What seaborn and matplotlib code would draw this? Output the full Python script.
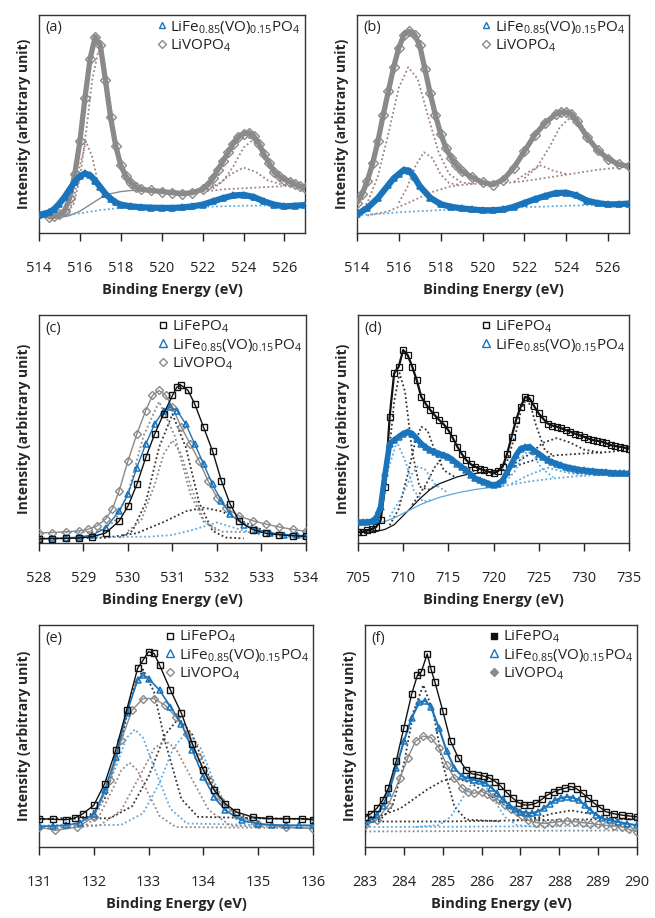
import numpy as np
import pandas as pd
import matplotlib
matplotlib.use("Agg")
import matplotlib.pyplot as plt
from matplotlib.lines import Line2D
import seaborn as sns

# ---------------- data (normalised intensity) ----------------
# panel (a)  V 2p, two samples
a_gray_x = [514.5,514.75,515.0,515.25,515.5,515.75,516.0,516.25,516.5,516.75,517.0,517.25,517.5,517.75,518.0,518.25,518.5,518.75,519.0,519.5,520.0,520.5,521.0,521.5,522.0,522.25,522.5,522.75,523.0,523.25,523.5,523.75,524.0,524.25,524.5,524.75,525.0,525.25,525.5,525.75,526.0,526.25,526.5,526.75,527.0]
a_gray_y = [0.075,0.078,0.085,0.10,0.16,0.27,0.42,0.62,0.80,0.90,0.86,0.70,0.53,0.40,0.31,0.26,0.23,0.21,0.20,0.195,0.19,0.185,0.18,0.185,0.20,0.22,0.25,0.29,0.33,0.37,0.41,0.44,0.455,0.46,0.445,0.41,0.36,0.32,0.28,0.26,0.245,0.235,0.225,0.215,0.205]
a_blue_x = [514.0,514.25,514.5,514.75,515.0,515.25,515.5,515.75,516.0,516.25,516.5,516.75,517.0,517.25,517.5,517.75,518.0,518.5,519.0,519.5,520.0,520.5,521.0,521.5,522.0,522.5,523.0,523.5,524.0,524.5,525.0,525.5,526.0,526.5,527.0]
a_blue_y = [0.083,0.088,0.095,0.11,0.135,0.165,0.20,0.235,0.26,0.273,0.265,0.24,0.21,0.18,0.158,0.14,0.13,0.122,0.118,0.116,0.115,0.115,0.117,0.122,0.13,0.145,0.16,0.172,0.175,0.165,0.145,0.13,0.122,0.125,0.128]
a_bg_x = [514.5,515.0,515.5,516.0,516.5,517.0,517.5,518.0,518.5,519.5,521.0,522.0]
a_bg_y = [0.065,0.07,0.08,0.10,0.13,0.16,0.18,0.19,0.195,0.195,0.19,0.19]
a_bg2_x = [522.0,523.0,524.0,525.0,526.0,527.0]
a_bg2_y = [0.19,0.20,0.205,0.21,0.215,0.22]
a_c1_x = [515.3,515.7,516.0,516.3,516.6,516.9,517.2,517.5,517.8,518.2,518.6]
a_c1_y = [0.082,0.135,0.25,0.46,0.70,0.835,0.78,0.59,0.395,0.24,0.20]
a_c2_x = [515.4,515.7,516.0,516.3,516.6,516.9,517.2]
a_c2_y = [0.086,0.154,0.31,0.42,0.35,0.224,0.18]
a_c3_x = [522.5,523.0,523.5,524.0,524.4,524.8,525.3,525.8,526.3,527.0]
a_c3_y = [0.204,0.238,0.305,0.392,0.422,0.397,0.317,0.253,0.226,0.22]
a_c4_x = [522.0,522.8,523.4,524.0,524.6,525.2,526.0]
a_c4_y = [0.194,0.227,0.271,0.30,0.28,0.241,0.219]
a_bbg_x = [514.0,515.0,516.0,517.0,518.0,520.0,522.0,524.0,526.0,527.0]
a_bbg_y = [0.075,0.08,0.09,0.105,0.115,0.118,0.12,0.125,0.127,0.128]

# panel (b)
b_gray_x = [514.0,514.25,514.5,514.75,515.0,515.25,515.5,515.75,516.0,516.25,516.5,516.75,517.0,517.25,517.5,517.75,518.0,518.25,518.5,518.75,519.0,519.5,520.0,520.5,521.0,521.5,522.0,522.5,523.0,523.5,523.75,524.0,524.25,524.5,525.0,525.5,526.0,526.5,527.0]
b_gray_y = [0.138,0.18,0.24,0.32,0.42,0.54,0.65,0.76,0.85,0.91,0.925,0.91,0.86,0.75,0.64,0.54,0.455,0.39,0.345,0.31,0.285,0.255,0.232,0.222,0.245,0.30,0.375,0.45,0.505,0.545,0.555,0.555,0.545,0.515,0.44,0.38,0.34,0.315,0.305]
b_blue_x = [514.0,514.5,515.0,515.5,515.75,516.0,516.25,516.5,516.75,517.0,517.5,518.0,518.5,519.0,519.5,520.0,520.5,521.0,521.5,522.0,522.5,523.0,523.5,524.0,524.5,525.0,525.5,526.0,526.5,527.0]
b_blue_y = [0.085,0.115,0.16,0.22,0.25,0.27,0.29,0.285,0.255,0.215,0.162,0.132,0.12,0.113,0.108,0.104,0.104,0.108,0.12,0.138,0.155,0.17,0.183,0.185,0.172,0.148,0.137,0.131,0.132,0.135]
b_bg_x = [514.5,515.5,516.5,517.5,518.5,519.5,520.5,521.5,522.5,523.5,524.5,525.5,527.0]
b_bg_y = [0.08,0.10,0.14,0.185,0.215,0.225,0.228,0.232,0.245,0.26,0.275,0.29,0.305]
b_c1_x = [514.0,514.5,515.0,515.5,516.0,516.45,516.9,517.4,517.9,518.4,519.0,519.6]
b_c1_y = [0.086,0.139,0.26,0.455,0.667,0.76,0.707,0.535,0.37,0.271,0.231,0.226]
b_c2_x = [516.0,516.4,516.8,517.2,517.6,518.0,518.4,518.9]
b_c2_y = [0.139,0.209,0.309,0.37,0.344,0.269,0.229,0.22]
b_c3_x = [522.0,522.6,523.2,523.7,524.2,524.7,525.2,525.8,526.5]
b_c3_y = [0.251,0.301,0.395,0.486,0.53,0.501,0.425,0.346,0.31]
b_c4_x = [521.5,522.2,522.8,523.4,524.1]
b_c4_y = [0.235,0.28,0.31,0.285,0.268]
b_bbg_x = [514.0,516.0,518.0,520.0,522.0,524.0,526.0,527.0]
b_bbg_y = [0.08,0.095,0.105,0.112,0.118,0.125,0.13,0.132]

# panel (c)  O 1s
c_black_x = [528.0,528.3,528.6,528.9,529.2,529.5,529.8,530.0,530.2,530.4,530.6,530.8,531.0,531.1,531.2,531.35,531.5,531.7,531.9,532.1,532.3,532.5,532.8,533.1,533.4,533.7,534.0]
c_black_y = [0.019,0.019,0.02,0.022,0.028,0.044,0.096,0.162,0.257,0.375,0.478,0.566,0.647,0.684,0.691,0.669,0.610,0.507,0.404,0.272,0.169,0.096,0.059,0.042,0.036,0.032,0.029]
c_blue_x = [528.0,528.3,528.6,528.9,529.2,529.5,529.8,530.0,530.2,530.4,530.6,530.8,530.95,531.1,531.3,531.5,531.7,531.9,532.1,532.3,532.6,532.9,533.2,533.5,533.8,534.0]
c_blue_y = [0.019,0.02,0.022,0.026,0.035,0.066,0.14,0.213,0.331,0.434,0.522,0.581,0.596,0.581,0.522,0.434,0.346,0.257,0.184,0.125,0.081,0.058,0.045,0.037,0.034,0.032]
c_gray_x = [528.0,528.3,528.6,528.9,529.1,529.3,529.5,529.65,529.8,530.0,530.2,530.4,530.55,530.7,530.85,531.0,531.2,531.4,531.6,531.8,532.0,532.2,532.5,532.8,533.1,533.4,533.7,534.0]
c_gray_y = [0.044,0.046,0.049,0.053,0.06,0.074,0.105,0.15,0.228,0.36,0.478,0.581,0.647,0.669,0.647,0.596,0.507,0.434,0.36,0.272,0.199,0.154,0.118,0.098,0.083,0.07,0.06,0.051]
c_k1_x = [529.8,530.1,530.4,530.7,531.0,531.3,531.6,531.9,532.2,532.6]
c_k1_y = [0.024,0.053,0.177,0.42,0.565,0.42,0.177,0.053,0.024,0.02]
c_k2_x = [528.0,529.5,530.2,530.8,531.3,531.7,532.1,532.6,533.2,533.9]
c_k2_y = [0.02,0.023,0.043,0.092,0.139,0.155,0.139,0.092,0.043,0.023]
c_g1_x = [528.5,529.3,529.7,530.0,530.35,530.7,531.05,531.4,531.7,532.1,533.0]
c_g1_y = [0.046,0.05,0.094,0.217,0.47,0.62,0.47,0.217,0.094,0.05,0.046]
c_g2_x = [530.0,530.3,530.6,530.8,531.0,531.2,531.4,531.7,532.0]
c_g2_y = [0.052,0.10,0.256,0.389,0.45,0.389,0.256,0.10,0.052]
c_b1_x = [529.0,530.5,531.0,531.5,532.0,532.5,533.0,533.5,534.0]
c_b1_y = [0.025,0.028,0.035,0.06,0.09,0.06,0.035,0.028,0.027]

# panel (d)  Fe 2p
d_x = [705+0.5*i for i in range(61)]
d_black_y = [0.048,0.05,0.056,0.062,0.07,0.10,0.246,0.553,0.744,0.773,0.846,0.824,0.773,0.714,0.641,0.61,0.583,0.56,0.539,0.52,0.495,0.46,0.422,0.39,0.363,0.345,0.334,0.325,0.319,0.312,0.305,0.315,0.334,0.39,0.466,0.54,0.597,0.641,0.634,0.60,0.568,0.545,0.524,0.515,0.51,0.503,0.495,0.488,0.48,0.473,0.466,0.458,0.451,0.448,0.444,0.437,0.429,0.425,0.422,0.418,0.414]
d_blue_y = [0.092,0.092,0.092,0.095,0.107,0.158,0.305,0.436,0.451,0.466,0.48,0.488,0.48,0.458,0.436,0.42,0.407,0.40,0.392,0.385,0.378,0.363,0.348,0.333,0.319,0.30,0.283,0.275,0.268,0.26,0.253,0.26,0.275,0.31,0.348,0.385,0.414,0.42,0.422,0.405,0.392,0.377,0.363,0.355,0.348,0.34,0.334,0.33,0.326,0.322,0.319,0.317,0.315,0.313,0.312,0.31,0.308,0.307,0.306,0.305,0.305]
d_kbg_x = [705,707,708,709,710,711,712,713,714,715,716,717,718,719,720,721]
d_kbg_y = [0.045,0.05,0.06,0.08,0.12,0.16,0.20,0.235,0.26,0.275,0.29,0.30,0.305,0.31,0.315,0.32]
d_kbg2_x = [721,723,725,727,729,731,733,735]
d_kbg2_y = [0.32,0.345,0.37,0.385,0.39,0.395,0.40,0.41]
d_k1_x = [706.5,707.5,708.3,709.0,709.6,710.2,711.0,711.8,712.8,714.0]
d_k1_y = [0.053,0.125,0.34,0.62,0.745,0.664,0.40,0.247,0.234,0.26]
d_k2_x = [708.5,709.5,710.5,711.3,712.0,712.7,713.5,714.5,715.7]
d_k2_y = [0.078,0.149,0.30,0.438,0.51,0.493,0.405,0.319,0.29]
d_k3_x = [711.0,712.5,713.5,714.5,715.5,716.5,718.0]
d_k3_y = [0.167,0.255,0.333,0.38,0.373,0.34,0.312]
d_k4_x = [720.5,721.5,722.5,723.1,723.6,724.1,724.7,725.7,726.7]
d_k4_y = [0.32,0.357,0.488,0.589,0.63,0.603,0.517,0.406,0.382]
d_k5_x = [722.0,724.0,725.5,727.0,728.5,730.0,732.0]
d_k5_y = [0.34,0.39,0.44,0.46,0.44,0.41,0.395]
d_bbg_x = [705,707,708,709,710,711,712,713,714,716,718,720,721]
d_bbg_y = [0.08,0.085,0.095,0.11,0.13,0.15,0.17,0.185,0.20,0.22,0.235,0.245,0.25]
d_bbg2_x = [721,724,727,730,733,735]
d_bbg2_y = [0.25,0.27,0.285,0.295,0.30,0.305]
d_b1_x = [706.5,707.5,708.3,709.3,710.3,711.2,712.2,713.3]
d_b1_y = [0.096,0.176,0.316,0.445,0.353,0.229,0.182,0.19]
d_b2_x = [708.5,709.8,711.0,711.6,712.4,713.5,715.0]
d_b2_y = [0.115,0.20,0.305,0.335,0.324,0.258,0.219]
d_b3_x = [721.0,722.3,723.2,723.8,724.4,725.3,726.6]
d_b3_y = [0.255,0.311,0.379,0.402,0.386,0.329,0.288]
d_b4_x = [722.0,724.0,726.0,728.0,730.0]
d_b4_y = [0.26,0.30,0.33,0.31,0.295]

# panel (e)  P 2p
e_black_x = [131.0,131.25,131.5,131.65,131.8,132.0,132.2,132.4,132.6,132.8,132.9,133.0,133.1,133.2,133.4,133.6,133.8,134.0,134.2,134.4,134.6,134.9,135.2,135.5,135.8,136.0]
e_black_y = [0.128,0.125,0.123,0.13,0.15,0.188,0.286,0.436,0.617,0.805,0.842,0.88,0.872,0.82,0.707,0.602,0.466,0.346,0.256,0.195,0.158,0.135,0.128,0.128,0.128,0.123]
e_blue_x = [131.0,131.25,131.5,131.75,132.0,132.2,132.4,132.6,132.8,132.9,133.0,133.2,133.4,133.6,133.8,134.0,134.2,134.4,134.7,135.0,135.25,135.5,135.75,136.0]
e_blue_y = [0.093,0.095,0.098,0.11,0.15,0.256,0.406,0.602,0.752,0.774,0.759,0.707,0.632,0.556,0.436,0.316,0.226,0.165,0.12,0.105,0.1,0.098,0.098,0.098]
e_gray_x = [131.0,131.3,131.7,132.0,132.3,132.5,132.7,132.9,133.1,133.3,133.5,133.7,133.9,134.1,134.3,134.6,135.0,135.5,136.0]
e_gray_y = [0.09,0.075,0.09,0.135,0.301,0.481,0.617,0.669,0.669,0.639,0.586,0.511,0.406,0.301,0.211,0.143,0.105,0.09,0.083]
e_k1_x = [131.0,131.9,132.2,132.5,132.7,132.9,133.1,133.3,133.6,133.9,136.0]
e_k1_y = [0.125,0.136,0.216,0.476,0.699,0.80,0.699,0.476,0.216,0.136,0.125]
e_k2_x = [131.0,132.3,132.7,133.0,133.3,133.55,133.8,134.1,134.4,134.8,136.0]
e_k2_y = [0.125,0.13,0.184,0.318,0.506,0.58,0.506,0.318,0.184,0.13,0.125]
e_b1_x = [131.0,131.8,132.1,132.4,132.6,132.75,132.9,133.1,133.4,133.7,136.0]
e_b1_y = [0.095,0.106,0.172,0.359,0.492,0.53,0.492,0.359,0.172,0.106,0.095]
e_b2_x = [131.0,132.5,132.9,133.2,133.45,133.7,133.95,134.2,134.5,134.9,136.0]
e_b2_y = [0.095,0.10,0.152,0.29,0.445,0.52,0.445,0.29,0.152,0.10,0.095]
e_g1_x = [131.0,131.8,132.1,132.35,132.5,132.65,132.8,132.95,133.2,133.5,136.0]
e_g1_y = [0.085,0.09,0.14,0.264,0.345,0.38,0.345,0.264,0.14,0.09,0.085]
e_g2_x = [131.0,132.1,132.5,132.85,133.1,133.3,133.5,133.75,134.1,134.5,136.0]
e_g2_y = [0.085,0.096,0.166,0.325,0.443,0.48,0.443,0.325,0.166,0.096,0.085]

# panel (f)  C 1s
f_black_x = [283.0,283.15,283.3,283.45,283.6,283.8,284.0,284.2,284.35,284.45,284.6,284.7,284.8,285.0,285.2,285.4,285.6,285.75,285.9,286.05,286.2,286.35,286.5,286.65,286.8,286.95,287.1,287.25,287.4,287.55,287.7,287.85,288.0,288.15,288.3,288.45,288.6,288.75,288.9,289.05,289.2,289.4,289.6,289.8,290.0]
f_black_y = [0.136,0.15,0.174,0.21,0.265,0.386,0.538,0.689,0.775,0.79,0.87,0.80,0.742,0.614,0.477,0.402,0.348,0.33,0.326,0.32,0.311,0.295,0.273,0.245,0.22,0.2,0.189,0.19,0.197,0.215,0.235,0.248,0.258,0.265,0.273,0.262,0.242,0.22,0.197,0.178,0.159,0.15,0.144,0.14,0.136]
f_blue_x = [283.0,283.15,283.3,283.45,283.6,283.8,284.0,284.2,284.4,284.55,284.7,284.9,285.1,285.3,285.5,285.65,285.8,285.95,286.1,286.25,286.4,286.55,286.7,286.85,287.0,287.15,287.3,287.45,287.6,287.75,287.9,288.05,288.2,288.35,288.5,288.65,288.8,288.95,289.1,289.3,289.5,289.75,290.0]
f_blue_y = [0.114,0.125,0.144,0.185,0.242,0.356,0.477,0.583,0.652,0.659,0.629,0.538,0.432,0.356,0.318,0.31,0.303,0.296,0.288,0.268,0.242,0.215,0.189,0.172,0.159,0.155,0.152,0.16,0.174,0.195,0.212,0.22,0.227,0.222,0.212,0.19,0.167,0.145,0.129,0.12,0.114,0.105,0.098]
f_gray_x = [283.0,283.3,283.6,283.9,284.1,284.3,284.5,284.7,284.9,285.1,285.3,285.5,285.65,285.8,286.0,286.15,286.3,286.45,286.6,286.75,286.9,287.05,287.2,287.4,287.6,287.8,288.0,288.2,288.4,288.6,288.8,289.0,289.2,289.4,289.6,289.8,290.0]
f_gray_y = [0.098,0.121,0.189,0.311,0.402,0.477,0.50,0.492,0.447,0.371,0.311,0.265,0.25,0.242,0.25,0.24,0.227,0.21,0.189,0.172,0.159,0.14,0.121,0.11,0.106,0.11,0.114,0.118,0.114,0.11,0.106,0.102,0.098,0.095,0.091,0.08,0.068]
f_kbg_x = [283.0,285.0,287.0,289.0,290.0]
f_kbg_y = [0.115,0.115,0.12,0.125,0.125]
f_k1_x = [283.0,283.4,283.7,284.0,284.25,284.5,284.75,285.0,285.3,285.6,286.5]
f_k1_y = [0.115,0.124,0.182,0.374,0.611,0.73,0.611,0.374,0.182,0.124,0.115]
f_k2_x = [283.2,283.9,284.6,285.0,285.3,285.7,286.2,286.9,287.6]
f_k2_y = [0.128,0.173,0.259,0.299,0.31,0.292,0.233,0.155,0.122]
f_k3_x = [286.8,287.3,287.8,288.3,288.8,289.3,290.0]
f_k3_y = [0.12,0.125,0.15,0.165,0.15,0.13,0.125]
f_b1_x = [284.3,284.9,285.2,285.5,285.7,285.9,286.1,286.3,286.6,286.9,287.5]
f_b1_y = [0.09,0.099,0.135,0.217,0.275,0.30,0.275,0.217,0.135,0.099,0.09]
f_bbg_x = [283.0,290.0]
f_bbg_y = [0.09,0.095]
f_gbg_x = [283.0,290.0]
f_gbg_y = [0.07,0.075]

# legend labels / ticks
lab_lfp = r"LiFePO$_4$"
lab_mix = r"LiFe$_{0.85}$(VO)$_{0.15}$PO$_4$"
lab_lvp = r"LiVOPO$_4$"
ticks_ab = [514, 516, 518, 520, 522, 524, 526]
ticks_c = [528, 529, 530, 531, 532, 533, 534]
ticks_d = [705, 710, 715, 720, 725, 730, 735]
ticks_e = [131, 132, 133, 134, 135, 136]
ticks_f = [283, 284, 285, 286, 287, 288, 289, 290]

# ---------------- style ----------------
sns.set_theme(style="white")
plt.rcParams["font.family"] = ["Open Sans", "DejaVu Sans"]
plt.rcParams["mathtext.fontset"] = "custom"
plt.rcParams["mathtext.rm"] = "Open Sans"
plt.rcParams["mathtext.it"] = "Open Sans:italic"
plt.rcParams["mathtext.bf"] = "Open Sans:bold"

BLUE = "#1a74bb"
LBLUE = "#5da8de"
GRAY = "#8a8a8a"
BROWN = "#a08282"
BLACK = "#111111"
DOT = (0, (1, 1.4))


def curve(ax, x, y, color, lw=1.0, ls="-", marker=None, ms=4, mfc="none", mew=0.8, z=2):
    kw = dict(color=color, linewidth=lw, linestyle=ls, zorder=z)
    if marker:
        kw.update(marker=marker, markersize=ms, markerfacecolor=mfc,
                  markeredgecolor=color, markeredgewidth=mew)
    sns.lineplot(x=np.asarray(x), y=np.asarray(y), ax=ax, estimator=None,
                 sort=False, errorbar=None, legend=False, **kw)


def dots(ax, x, y, color, lw=1.3):
    curve(ax, x, y, color, lw=lw, ls=DOT, z=2)


def setup(ax, letter, xlim, ticks):
    ax.set_xlim(*xlim)
    ax.set_ylim(0, 1)
    ax.set_xticks(ticks)
    ax.set_xticklabels([str(t) for t in ticks])
    ax.set_yticks([])
    ax.tick_params(axis="x", bottom=True, direction="out", length=6, width=1,
                   pad=14, labelsize=10.5, colors="#222222")
    for s in ax.spines.values():
        s.set_color("#333333")
        s.set_linewidth(1.0)
        s.set_visible(True)
    ax.set_xlabel("Binding Energy (eV)", fontsize=10.5, fontweight="bold", labelpad=5)
    ax.set_ylabel("Intensity (arbitrary unit)", fontsize=10, fontweight="bold", labelpad=6)
    ax.text(0.025, 0.975, letter, transform=ax.transAxes, ha="left", va="top", fontsize=10.5)


def legend(ax, entries, fs=11):
    handles, labels = [], []
    for marker, ec, fc, ms, lab in entries:
        handles.append(Line2D([], [], linestyle="none", marker=marker, markersize=ms,
                              markerfacecolor=fc, markeredgecolor=ec, markeredgewidth=1.0))
        labels.append(lab)
    ax.legend(handles, labels, loc="upper right", frameon=False, fontsize=fs,
              handlelength=0.6, handletextpad=0.25, labelspacing=0.1,
              borderaxespad=0.1, borderpad=0.15, labelcolor="#222222")


fig = plt.figure(figsize=(6.55, 9.18), dpi=100)
ax_a = fig.add_axes([0.0595, 0.7462, 0.406, 0.2375])
ax_b = fig.add_axes([0.545, 0.7462, 0.4153, 0.2375])
ax_c = fig.add_axes([0.0595, 0.4085, 0.4076, 0.2484])
ax_d = fig.add_axes([0.5466, 0.4085, 0.4137, 0.2484])
ax_e = fig.add_axes([0.0595, 0.0773, 0.4183, 0.2418])
ax_f = fig.add_axes([0.5573, 0.0773, 0.4153, 0.2418])

# (a)
ax = ax_a
curve(ax, a_bg_x, a_bg_y, GRAY, lw=1.0)
dots(ax, a_bg2_x, a_bg2_y, BROWN)
for xx, yy in [(a_c1_x, a_c1_y), (a_c2_x, a_c2_y), (a_c3_x, a_c3_y), (a_c4_x, a_c4_y)]:
    dots(ax, xx, yy, BROWN)
dots(ax, a_bbg_x, a_bbg_y, LBLUE)
curve(ax, a_gray_x, a_gray_y, GRAY, lw=3.8, marker="D", ms=5, mew=1.0, z=3)
curve(ax, a_blue_x, a_blue_y, BLUE, lw=4.5, marker="^", ms=5, mew=1.2, z=4)
setup(ax, "(a)", (514, 527), ticks_ab)
legend(ax, [("^", BLUE, "none", 5, lab_mix), ("D", GRAY, "none", 4.5, lab_lvp)])

# (b)
ax = ax_b
dots(ax, b_bg_x, b_bg_y, BROWN)
for xx, yy in [(b_c1_x, b_c1_y), (b_c2_x, b_c2_y), (b_c3_x, b_c3_y), (b_c4_x, b_c4_y)]:
    dots(ax, xx, yy, BROWN)
dots(ax, b_bbg_x, b_bbg_y, LBLUE)
curve(ax, b_gray_x, b_gray_y, GRAY, lw=3.8, marker="D", ms=5, mew=1.0, z=3)
curve(ax, b_blue_x, b_blue_y, BLUE, lw=4.5, marker="^", ms=5, mew=1.2, z=4)
setup(ax, "(b)", (514, 527), ticks_ab)
legend(ax, [("^", BLUE, "none", 5, lab_mix), ("D", GRAY, "none", 4.5, lab_lvp)])

# (c)
ax = ax_c
dots(ax, c_k1_x, c_k1_y, "#333333")
dots(ax, c_k2_x, c_k2_y, "#333333")
dots(ax, c_g1_x, c_g1_y, GRAY)
dots(ax, c_g2_x, c_g2_y, GRAY)
dots(ax, c_b1_x, c_b1_y, LBLUE)
curve(ax, c_gray_x, c_gray_y, GRAY, lw=1.0, marker="D", ms=4.5, mew=1.0, z=3)
curve(ax, c_blue_x, c_blue_y, BLUE, lw=1.0, marker="^", ms=5, mew=1.1, z=4)
curve(ax, c_black_x, c_black_y, BLACK, lw=1.0, marker="s", ms=4.5, mew=1.0, z=5)
setup(ax, "(c)", (528, 534), ticks_c)
legend(ax, [("s", BLACK, "none", 5, lab_lfp), ("^", BLUE, "none", 5.5, lab_mix),
            ("D", GRAY, "none", 4.5, lab_lvp)])

# (d)
ax = ax_d
curve(ax, d_kbg_x, d_kbg_y, BLACK, lw=0.9)
dots(ax, d_kbg2_x, d_kbg2_y, "#333333")
for xx, yy in [(d_k1_x, d_k1_y), (d_k2_x, d_k2_y), (d_k3_x, d_k3_y), (d_k4_x, d_k4_y), (d_k5_x, d_k5_y)]:
    dots(ax, xx, yy, "#333333")
curve(ax, d_bbg_x, d_bbg_y, LBLUE, lw=0.9)
dots(ax, d_bbg2_x, d_bbg2_y, LBLUE)
for xx, yy in [(d_b1_x, d_b1_y), (d_b2_x, d_b2_y), (d_b3_x, d_b3_y), (d_b4_x, d_b4_y)]:
    dots(ax, xx, yy, LBLUE)
curve(ax, d_x, d_black_y, BLACK, lw=1.6, marker="s", ms=4, mew=0.9, z=4)
curve(ax, d_x, d_blue_y, BLUE, lw=4.0, marker="^", ms=4.5, mew=1.1, z=5)
setup(ax, "(d)", (705, 735), ticks_d)
legend(ax, [("s", BLACK, "none", 5, lab_lfp), ("^", BLUE, "none", 5.5, lab_mix)])

# (e)
ax = ax_e
for xx, yy in [(e_k1_x, e_k1_y), (e_k2_x, e_k2_y)]:
    dots(ax, xx, yy, "#333333")
for xx, yy in [(e_b1_x, e_b1_y), (e_b2_x, e_b2_y)]:
    dots(ax, xx, yy, LBLUE)
for xx, yy in [(e_g1_x, e_g1_y), (e_g2_x, e_g2_y)]:
    dots(ax, xx, yy, BROWN)
curve(ax, e_gray_x, e_gray_y, GRAY, lw=1.0, marker="D", ms=4.5, mew=1.0, z=3)
curve(ax, e_blue_x, e_blue_y, BLUE, lw=1.2, marker="^", ms=5, mew=1.1, z=4)
curve(ax, e_black_x, e_black_y, BLACK, lw=1.0, marker="s", ms=5, mew=1.0, z=5)
setup(ax, "(e)", (131, 136), ticks_e)
legend(ax, [("s", BLACK, "none", 5, lab_lfp), ("^", BLUE, "none", 5.5, lab_mix),
            ("D", GRAY, "none", 4.5, lab_lvp)])

# (f)
ax = ax_f
dots(ax, f_kbg_x, f_kbg_y, "#333333")
for xx, yy in [(f_k1_x, f_k1_y), (f_k2_x, f_k2_y), (f_k3_x, f_k3_y)]:
    dots(ax, xx, yy, "#333333")
dots(ax, f_b1_x, f_b1_y, LBLUE)
dots(ax, f_bbg_x, f_bbg_y, LBLUE)
dots(ax, f_gbg_x, f_gbg_y, GRAY)
curve(ax, f_gray_x, f_gray_y, GRAY, lw=1.0, marker="D", ms=4.5, mew=1.0, z=3)
curve(ax, f_blue_x, f_blue_y, BLUE, lw=1.5, marker="^", ms=5, mew=1.1, z=4)
curve(ax, f_black_x, f_black_y, BLACK, lw=1.0, marker="s", ms=5, mew=1.0, z=5)
setup(ax, "(f)", (283, 290), ticks_f)
legend(ax, [("s", BLACK, BLACK, 5, lab_lfp), ("^", BLUE, "none", 5.5, lab_mix),
            ("D", GRAY, GRAY, 4, lab_lvp)])

fig.savefig("out.png", dpi=100)
